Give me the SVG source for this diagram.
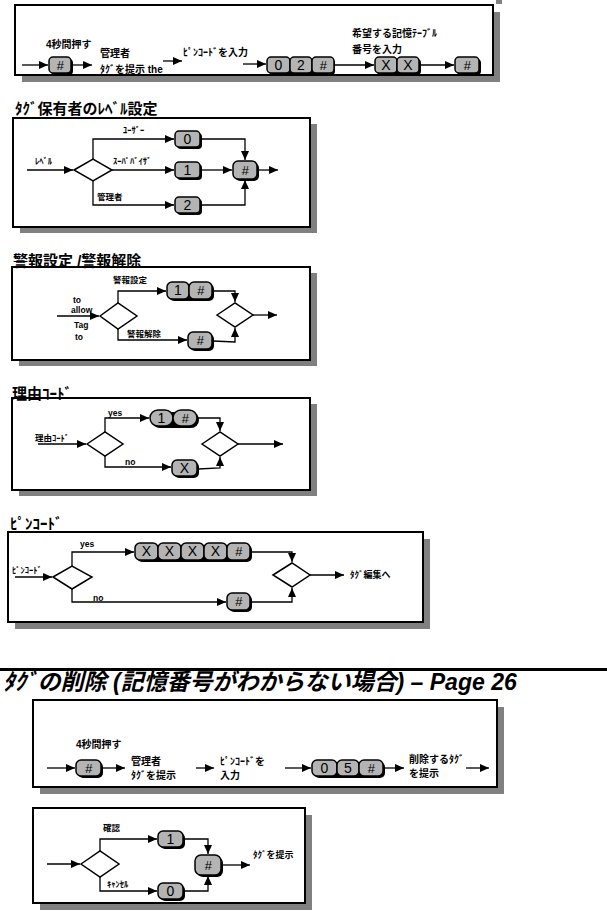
<svg xmlns="http://www.w3.org/2000/svg" width="607" height="922" viewBox="0 0 607 922">
<defs>
<marker id="ah" markerWidth="9" markerHeight="9" refX="9" refY="4.5" orient="auto" markerUnits="userSpaceOnUse"><path d="M0,0.5 L9,4.5 L0,8.5 Z" fill="#000"/></marker>
<style>
.box{fill:#fff;stroke:#000;stroke-width:2}
.sh{fill:#808080}
.b{fill:#b4b4b4;stroke:#000;stroke-width:1.5}
.bs{fill:#000}
.dia{fill:#fff;stroke:#000;stroke-width:1.5}
.ln{fill:none;stroke:#000;stroke-width:1.3;marker-end:url(#ah)}
text{font-family:"Liberation Sans","Noto Sans CJK JP",sans-serif;fill:#000}
.t{font-weight:bold;font-size:10px}
.ts{font-weight:bold;font-size:8.5px}
.ti{font-weight:bold;font-size:15px}
.k{font-size:14px;text-anchor:middle}
.kh{font-size:13px;text-anchor:middle;font-style:italic}
.big{font-weight:bold;font-style:italic;font-size:23px}
</style>
</defs>
<rect width="607" height="922" fill="#fff"/>

<!-- frames -->
<g id="frame1"><rect class="sh" x="496" y="0" width="6" height="4"/><rect class="sh" x="22" y="12" width="478" height="70"/><rect class="box" x="15" y="5" width="478" height="70"/></g>
<g id="frame2"><text class="ti" x="15" y="114">ﾀｸﾞ保有者のﾚﾍﾞﾙ設定</text><rect class="sh" x="20" y="124" width="297" height="109"/><rect class="box" x="13" y="118" width="297" height="109"/></g>
<g id="frame3"><rect class="sh" x="19" y="273" width="298" height="93"/><rect class="box" x="12" y="267" width="298" height="93"/><text class="ti" x="13" y="266">警報設定 /警報解除</text></g>
<g id="frame4"><rect class="sh" x="19" y="404" width="298" height="92"/><rect class="box" x="12" y="398" width="298" height="92"/><text class="ti" x="12" y="399">理由ｺｰﾄﾞ</text></g>
<g id="frame5"><text class="ti" x="10" y="529">ﾋﾟﾝｺｰﾄﾞ</text><rect class="sh" x="15" y="539" width="415" height="90"/><rect class="box" x="8" y="532" width="415" height="90"/></g>
<line x1="0" y1="669.5" x2="607" y2="669.5" stroke="#000" stroke-width="3"/>
<text class="big" x="3" y="690">ﾀｸﾞの削除 (記憶番号がわからない場合) – Page 26</text>
<g id="frame6"><rect class="sh" x="40" y="707" width="464" height="87"/><rect class="box" x="33" y="700" width="464" height="87"/></g>
<g id="frame7"><rect class="sh" x="40" y="815" width="272" height="95"/><rect class="box" x="33" y="808" width="272" height="95"/></g>

<!-- connectors -->
<g id="connectors">
<path class="ln" d="M22,65 H48"/>
<path class="ln" d="M72,65 H92"/>
<path class="ln" d="M163,61 H182"/>
<path class="ln" d="M243,64 H266"/>
<path class="ln" d="M335,65 H374"/>
<path class="ln" d="M420,65 H454"/>

<path class="ln" d="M27,170 H73"/>
<path class="ln" d="M93,159 V139 H174"/>
<path class="ln" d="M112,170 H174"/>
<path class="ln" d="M93,181 V205 H174"/>
<path class="ln" d="M201,139 H245 V160"/>
<path class="ln" d="M201,170 H232"/>
<path class="ln" d="M201,205 H245 V180"/>
<path class="ln" d="M258,170 H278"/>

<path class="ln" d="M57,316 H99"/>
<path class="ln" d="M118,303 V291 H166"/>
<path class="ln" d="M118,329 V340 H187"/>
<path class="ln" d="M213,291 H235 V302"/>
<path class="ln" d="M213,341 L235,342 V328"/>
<path class="ln" d="M253,315 H277"/>

<path class="ln" d="M38,444 H86"/>
<path class="ln" d="M105,432 V418 H149"/>
<path class="ln" d="M105,456 V467 H171"/>
<path class="ln" d="M198,418 H220 V431"/>
<path class="ln" d="M198,469 L220,468 V457"/>
<path class="ln" d="M238,444 H283"/>

<path class="ln" d="M15,577 H52"/>
<path class="ln" d="M72,566 V552 H134"/>
<path class="ln" d="M72,589 V602 H226"/>
<path class="ln" d="M251,552 H292 V562"/>
<path class="ln" d="M251,602 H292 V588"/>
<path class="ln" d="M310,575 H344"/>

<path class="ln" d="M47,768 H75"/>
<path class="ln" d="M102,768 H125"/>
<path class="ln" d="M196,768 H214"/>
<path class="ln" d="M285,768 H311"/>
<path class="ln" d="M384,768 H404"/>
<path class="ln" d="M466,768 H489"/>

<path class="ln" d="M47,864 H80"/>
<path class="ln" d="M100,851 V839 H157"/>
<path class="ln" d="M100,877 V891 H157"/>
<path class="ln" d="M184,839 H208 V854"/>
<path class="ln" d="M184,891 H208 V876"/>
<path class="ln" d="M222,865 H250"/>
</g>

<!-- box 1 nodes -->
<g id="b1-hash"><rect class="bs" x="51" y="59" width="22" height="16" rx="4"/><rect class="b" x="49" y="57" width="22" height="16" rx="4"/><text class="kh" x="60" y="70">#</text></g>
<g id="b1-lbl1"><text class="t" x="46" y="48">4秒間押す</text></g>
<g id="b1-lbl2"><text class="t" x="100" y="57">管理者</text><text class="t" x="100" y="73">ﾀｸﾞを提示 the</text></g>
<g id="b1-lbl3"><text class="t" x="183" y="56">ﾋﾟﾝｺｰﾄﾞを入力</text></g>
<g id="b1-02h">
<rect class="bs" x="269" y="59" width="66" height="16" rx="4"/>
<rect class="b" x="267" y="57" width="23" height="16" rx="4"/><text class="k" x="278.5" y="70">0</text>
<rect class="b" x="290" y="57" width="22" height="16" rx="4"/><text class="k" x="301" y="70">2</text>
<rect class="b" x="312" y="57" width="22" height="16" rx="4"/><text class="kh" x="323" y="70">#</text>
</g>
<g id="b1-lbl4"><text class="t" x="352" y="37">希望する記憶ﾃｰﾌﾞﾙ</text><text class="t" x="352" y="53">番号を入力</text></g>
<g id="b1-xx">
<rect class="bs" x="377" y="59" width="44" height="16" rx="4"/>
<rect class="b" x="375" y="57" width="22" height="16" rx="4"/><text class="k" x="386" y="70">X</text>
<rect class="b" x="397" y="57" width="22" height="16" rx="4"/><text class="k" x="408" y="70">X</text>
</g>
<g id="b1-hash2"><rect class="bs" x="457" y="59" width="24" height="16" rx="4"/><rect class="b" x="455" y="57" width="24" height="16" rx="4"/><text class="kh" x="467" y="70">#</text></g>

<!-- box 2 nodes -->
<g id="b2-in"><text class="ts" x="35" y="164">ﾚﾍﾞﾙ</text></g>
<g id="b2-dia"><polygon class="dia" points="74,170 93,159 112,170 93,181"/></g>
<g id="b2-l0"><text class="ts" x="123" y="133">ﾕｰｻﾞｰ</text></g>
<g id="b2-l1"><text class="ts" x="113" y="164">ｽｰﾊﾟﾊﾞｲｻﾞ</text></g>
<g id="b2-l2"><text class="ts" x="97" y="200">管理者</text></g>
<g id="b2-0"><rect class="bs" x="177" y="133" width="25" height="16" rx="4"/><rect class="b" x="175" y="131" width="25" height="16" rx="4"/><text class="k" x="187.5" y="144">0</text></g>
<g id="b2-1"><rect class="bs" x="177" y="164" width="25" height="16" rx="4"/><rect class="b" x="175" y="162" width="25" height="16" rx="4"/><text class="k" x="187.5" y="175">1</text></g>
<g id="b2-2"><rect class="bs" x="177" y="199" width="25" height="16" rx="4"/><rect class="b" x="175" y="197" width="25" height="16" rx="4"/><text class="k" x="187.5" y="210">2</text></g>
<g id="b2-h"><rect class="bs" x="235" y="163" width="24" height="18" rx="5"/><rect class="b" x="233" y="161" width="24" height="18" rx="5"/><text class="kh" x="245" y="175">#</text></g>

<!-- box 3 nodes -->
<g id="b3-in"><text class="ts" x="73" y="303">to</text><text class="ts" x="71" y="313">allow</text><text class="ts" x="74" y="328">Tag</text><text class="ts" x="75" y="340">to</text></g>
<g id="b3-dia1"><polygon class="dia" points="100,316 118,303 137,316 118,329"/></g>
<g id="b3-l1"><text class="ts" x="113" y="283">警報設定</text></g>
<g id="b3-l2"><text class="ts" x="127" y="337">警報解除</text></g>
<g id="b3-1h">
<rect class="bs" x="169" y="284" width="45" height="17" rx="5"/>
<rect class="b" x="167" y="282" width="22" height="17" rx="5"/><text class="k" x="178" y="295">1</text>
<rect class="b" x="189" y="282" width="23" height="17" rx="5"/><text class="kh" x="200.5" y="295">#</text>
</g>
<g id="b3-h"><rect class="bs" x="190" y="334" width="24" height="17" rx="5"/><rect class="b" x="188" y="332" width="24" height="17" rx="5"/><text class="kh" x="200" y="345">#</text></g>
<g id="b3-dia2"><polygon class="dia" points="217,315 235,303 253,315 235,327"/></g>

<!-- box 4 nodes -->
<g id="b4-in"><text class="ts" x="35" y="441">理由ｺｰﾄﾞ</text></g>
<g id="b4-dia1"><polygon class="dia" points="87,444 105,432 123,444 105,456"/></g>
<g id="b4-yes"><text class="ts" x="108" y="416">yes</text></g>
<g id="b4-no"><text class="ts" x="125" y="465">no</text></g>
<g id="b4-1h">
<rect class="bs" x="152" y="412" width="47" height="16" rx="8"/>
<rect class="b" x="150" y="410" width="23" height="16" rx="8"/><text class="k" x="161.5" y="423">1</text>
<rect class="b" x="173" y="410" width="24" height="16" rx="8"/><text class="kh" x="185" y="423">#</text>
</g>
<g id="b4-x"><rect class="bs" x="174" y="462" width="25" height="16" rx="5"/><rect class="b" x="172" y="460" width="25" height="16" rx="5"/><text class="k" x="184.5" y="473">X</text></g>
<g id="b4-dia2"><polygon class="dia" points="202,444 220,432 238,444 220,456"/></g>

<!-- box 5 nodes -->
<g id="b5-in"><text class="ts" x="12" y="573">ﾋﾟﾝｺｰﾄﾞ</text></g>
<g id="b5-dia1"><polygon class="dia" points="53,577 72,566 92,577 72,589"/></g>
<g id="b5-yes"><text class="ts" x="80" y="547">yes</text></g>
<g id="b5-no"><text class="ts" x="93" y="601">no</text></g>
<g id="b5-xxxxh">
<rect class="bs" x="137" y="545" width="115" height="17" rx="5"/>
<rect class="b" x="135" y="543" width="23" height="17" rx="5"/><text class="k" x="146.5" y="556">X</text>
<rect class="b" x="158" y="543" width="23" height="17" rx="5"/><text class="k" x="169.5" y="556">X</text>
<rect class="b" x="181" y="543" width="23" height="17" rx="5"/><text class="k" x="192.5" y="556">X</text>
<rect class="b" x="204" y="543" width="23" height="17" rx="5"/><text class="k" x="215.5" y="556">X</text>
<rect class="b" x="227" y="543" width="23" height="17" rx="5"/><text class="kh" x="238.5" y="556">#</text>
</g>
<g id="b5-h"><rect class="bs" x="229" y="595" width="23" height="17" rx="5"/><rect class="b" x="227" y="593" width="23" height="17" rx="5"/><text class="kh" x="238.5" y="606">#</text></g>
<g id="b5-dia2"><polygon class="dia" points="273,575 292,563 310,575 292,587"/></g>
<g id="b5-out"><text class="ts" x="350" y="578" style="font-size:9px">ﾀｸﾞ編集へ</text></g>

<!-- box 6 nodes -->
<g id="b6-lbl1"><text class="t" x="76" y="748">4秒間押す</text></g>
<g id="b6-h"><rect class="bs" x="78" y="762" width="25" height="16" rx="5"/><rect class="b" x="76" y="760" width="25" height="16" rx="5"/><text class="kh" x="88.5" y="773">#</text></g>
<g id="b6-lbl2"><text class="t" x="131" y="765">管理者</text><text class="t" x="131" y="779">ﾀｸﾞを提示</text></g>
<g id="b6-lbl3"><text class="t" x="220" y="765">ﾋﾟﾝｺｰﾄﾞを</text><text class="t" x="220" y="779">入力</text></g>
<g id="b6-05h">
<rect class="bs" x="314" y="762" width="71" height="16" rx="5"/>
<rect class="b" x="312" y="760" width="25" height="16" rx="5"/><text class="k" x="324.5" y="773">0</text>
<rect class="b" x="337" y="760" width="22" height="16" rx="5"/><text class="k" x="348" y="773">5</text>
<rect class="b" x="359" y="760" width="24" height="16" rx="5"/><text class="kh" x="371" y="773">#</text>
</g>
<g id="b6-lbl4"><text class="t" x="409" y="763">削除するﾀｸﾞ</text><text class="t" x="409" y="777">を提示</text></g>

<!-- box 7 nodes -->
<g id="b7-dia"><polygon class="dia" points="81,864 100,851 119,864 100,877"/></g>
<g id="b7-l1"><text class="ts" x="103" y="831">確認</text></g>
<g id="b7-l2"><text class="ts" x="107" y="887">ｷｬﾝｾﾙ</text></g>
<g id="b7-1"><rect class="bs" x="160" y="833" width="25" height="16" rx="5"/><rect class="b" x="158" y="831" width="25" height="16" rx="5"/><text class="k" x="170.5" y="844">1</text></g>
<g id="b7-0"><rect class="bs" x="160" y="885" width="25" height="16" rx="5"/><rect class="b" x="158" y="883" width="25" height="16" rx="5"/><text class="k" x="170.5" y="896">0</text></g>
<g id="b7-h"><rect class="bs" x="197" y="857" width="26" height="20" rx="6"/><rect class="b" x="195" y="855" width="26" height="20" rx="6"/><text class="kh" x="208" y="870">#</text></g>
<g id="b7-out"><text class="ts" x="253" y="858" style="font-size:9px">ﾀｸﾞを提示</text></g>
</svg>
